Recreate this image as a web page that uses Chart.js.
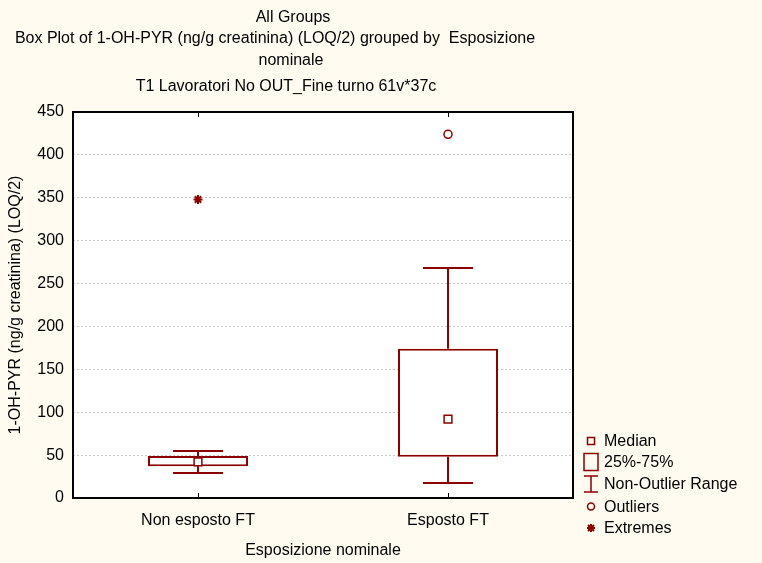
<!DOCTYPE html>
<html><head><meta charset="utf-8">
<script src="https://cdn.jsdelivr.net/npm/chart.js@4/dist/chart.umd.min.js"></script>
<style>html,body{margin:0;padding:0;background:#FFFBF0;}canvas{display:block;}</style>
</head><body>
<canvas id="c" width="762" height="563"></canvas>
<script>
// ---- data ----
const categories = ['Non esposto FT', 'Esposto FT'];
const q1 = [37, 48];
const q3 = [49, 174];
const medians = [42, 92];
const whiskerLow = [29, 18];
const whiskerHigh = [55, 268];
const outliers = [null, 424];
const extremes = [348, null];
const yMin = 0, yMax = 450, yStep = 50;
const titleLines = ['All Groups',
  'Box Plot of 1-OH-PYR (ng/g creatinina) (LOQ/2) grouped by  Esposizione',
  'nominale',
  'T1 Lavoratori No OUT_Fine turno 61v*37c'];
const xAxisTitle = 'Esposizione nominale';
const yAxisTitle = '1-OH-PYR (ng/g creatinina) (LOQ/2)';
const legendLabels = ['Median', '25%-75%', 'Non-Outlier Range', 'Outliers', 'Extremes'];

// ---- styles ----
const RED = '#8B0000';
const BG = '#FFFBF0';
const FONT = '"Liberation Sans", Arial, sans-serif';
const FS = 16;

const extras = {
  id: 'extras',
  beforeDraw(chart) {
    const {ctx, chartArea: a} = chart;
    ctx.save();
    ctx.fillStyle = BG; ctx.fillRect(0, 0, chart.width, chart.height);
    ctx.fillStyle = '#FFFFFF'; ctx.fillRect(a.left, a.top, a.right - a.left, a.bottom - a.top);
    ctx.restore();
  },
  afterDatasetsDraw(chart) {
    const {ctx, scales: {x, y}} = chart;
    const meta = chart.getDatasetMeta(0);
    ctx.save();
    ctx.strokeStyle = RED; ctx.lineWidth = 2;
    categories.forEach((c, i) => {
      const cx = Math.round(x.getPixelForValue(i));
      const half = meta.data[i].width / 4;
      const yH = Math.round(y.getPixelForValue(whiskerHigh[i]));
      const yL = Math.round(y.getPixelForValue(whiskerLow[i]));
      const y3 = y.getPixelForValue(q3[i]);
      const y1 = y.getPixelForValue(q1[i]);
      ctx.beginPath();
      ctx.moveTo(cx, y3); ctx.lineTo(cx, yH);
      ctx.moveTo(cx - half, yH); ctx.lineTo(cx + half, yH);
      ctx.moveTo(cx, y1); ctx.lineTo(cx, yL);
      ctx.moveTo(cx - half, yL); ctx.lineTo(cx + half, yL);
      ctx.stroke();
    });
    ctx.restore();
  },
  afterDraw(chart) {
    const {ctx, chartArea: a, scales: {x}} = chart;
    ctx.save();
    // frame
    ctx.strokeStyle = '#000'; ctx.lineWidth = 2;
    ctx.strokeRect(a.left, a.top, a.right - a.left, a.bottom - a.top);
    // x tick marks
    ctx.lineWidth = 1;
    categories.forEach((c, i) => {
      const px = Math.round(x.getPixelForValue(i)) + 0.5;
      ctx.beginPath();
      ctx.moveTo(px, a.bottom); ctx.lineTo(px, a.bottom - 5);
      ctx.moveTo(px, a.top); ctx.lineTo(px, a.top + 5);
      ctx.stroke();
    });
    // titles
    ctx.fillStyle = '#000';
    ctx.font = FS + 'px ' + FONT;
    ctx.textAlign = 'center'; ctx.textBaseline = 'middle';
    const tx = [293, 275, 291, 286];
    const ty = [17.5, 38.5, 60.5, 86.5];
    titleLines.forEach((t, i) => ctx.fillText(t, tx[i], ty[i]));
    // legend
    const mx = a.right + 18, lx = a.right + 31;
    const ly = [a.bottom - 57, a.bottom - 36, a.bottom - 14, a.bottom + 8.5, a.bottom + 30];
    ctx.textAlign = 'left';
    legendLabels.forEach((t, i) => ctx.fillText(t, lx, ly[i] + 1));
    ctx.strokeStyle = RED; ctx.lineWidth = 1.5;
    // median
    ctx.strokeRect(mx - 3.5, ly[0] - 3.5, 7, 7);
    // box
    ctx.strokeRect(mx - 7, ly[1] - 8.5, 14, 17);
    // whisker
    ctx.beginPath();
    ctx.moveTo(mx - 7, ly[2] - 8); ctx.lineTo(mx + 7, ly[2] - 8);
    ctx.moveTo(mx, ly[2] - 8); ctx.lineTo(mx, ly[2] + 8);
    ctx.moveTo(mx - 7, ly[2] + 8); ctx.lineTo(mx + 7, ly[2] + 8);
    ctx.stroke();
    // outlier
    ctx.beginPath(); ctx.arc(mx, ly[3], 3.5, 0, Math.PI * 2); ctx.stroke();
    // extreme
    ctx.lineWidth = 2;
    ctx.beginPath();
    const r = 4;
    ctx.moveTo(mx - r, ly[4]); ctx.lineTo(mx + r, ly[4]);
    ctx.moveTo(mx, ly[4] - r); ctx.lineTo(mx, ly[4] + r);
    const d = r * 0.75;
    ctx.moveTo(mx - d, ly[4] - d); ctx.lineTo(mx + d, ly[4] + d);
    ctx.moveTo(mx - d, ly[4] + d); ctx.lineTo(mx + d, ly[4] - d);
    ctx.stroke();
    ctx.restore();
  }
};

new Chart(document.getElementById('c'), {
  data: {
    labels: categories,
    datasets: [
      { type: 'bar', label: '25%-75%', data: categories.map((c, i) => [q1[i], q3[i]]),
        backgroundColor: '#FFFFFF', borderColor: RED, borderWidth: 2, borderSkipped: false,
        categoryPercentage: 1, barPercentage: 0.4, order: 3 },
      { type: 'line', label: 'Median', data: medians, showLine: false, pointStyle: 'rect',
        pointRadius: 5.5, pointBorderWidth: 1.5, pointBorderColor: RED, pointBackgroundColor: '#FFFFFF', order: 1 },
      { type: 'line', label: 'Outliers', data: outliers, showLine: false, pointStyle: 'circle',
        pointRadius: 4, pointBorderWidth: 1.5, pointBorderColor: RED, pointBackgroundColor: '#FFFFFF', order: 1 },
      { type: 'line', label: 'Extremes', data: extremes, showLine: false, pointStyle: 'star',
        pointRadius: 4.5, pointBorderWidth: 2, pointBorderColor: RED, pointBackgroundColor: RED, order: 1 }
    ]
  },
  options: {
    responsive: false, animation: false,
    layout: { padding: { left: 0, right: 189, top: 112, bottom: 0 } },
    plugins: { legend: { display: false }, tooltip: { enabled: false }, title: { display: false } },
    scales: {
      x: {
        type: 'category', offset: true,
        grid: { display: false }, border: { display: false },
        ticks: { color: '#000', font: { size: FS, family: FONT }, padding: 5, maxRotation: 0 },
        title: { display: true, text: xAxisTitle, color: '#000', font: { size: FS, family: FONT }, padding: { top: 0, bottom: 3 } },
        afterFit(s) { s.height = 65; }
      },
      y: {
        min: yMin, max: yMax,
        grid: { color: '#C8C8C8', lineWidth: 1, drawTicks: false },
        border: { display: false, dash: [2, 2] },
        ticks: { stepSize: yStep, color: '#000', font: { size: FS, family: FONT }, padding: 9 },
        title: { display: true, text: yAxisTitle, color: '#000', font: { size: FS, family: FONT }, padding: { top: 6, bottom: 0 } },
        afterFit(s) { s.width = 73; }
      }
    }
  },
  plugins: [extras]
});
</script>
</body></html>
